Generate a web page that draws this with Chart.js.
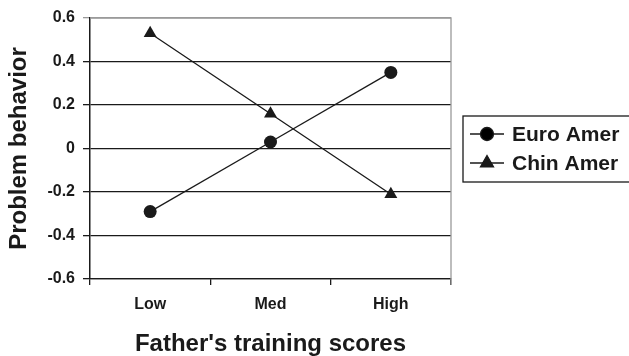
<!DOCTYPE html>
<html>
<head>
<meta charset="utf-8">
<script src="https://cdn.jsdelivr.net/npm/chart.js@4"></script>
<style>
  body { margin: 0; background: #fff; }
  canvas { display: block; }
</style>
</head>
<body>
<canvas id="chart" width="629" height="356"></canvas>
<script>
// Father's training scores vs problem behavior
const categories = ['Low', 'Med', 'High'];
const euroAmer = [-0.29, 0.03, 0.35];
const chinAmer = [0.53, 0.16, -0.21];
const seriesNames = ['Euro Amer', 'Chin Amer'];
const yTicks = [-0.6, -0.4, -0.2, 0, 0.2, 0.4, 0.6];

const FONT = "'Liberation Sans', Arial, sans-serif";
const INK = '#1a1a1a';

// gray frame on top / right of the plot
const frame = {
    id: 'frame',
    afterDraw(chart) {
        const { ctx, chartArea: a } = chart;
        ctx.save();
        ctx.strokeStyle = '#9a9a9a';
        ctx.lineWidth = 1.3;
        ctx.beginPath();
        ctx.moveTo(a.left, a.top);
        ctx.lineTo(a.right, a.top);
        ctx.lineTo(a.right, a.bottom + 6);
        ctx.stroke();
        ctx.restore();
    }
};

// boxed legend to the right, like the original figure
const boxLegend = {
    id: 'boxLegend',
    afterDraw(chart) {
        const ctx = chart.ctx;
        const x = 463, y = 116, h = 66;
        ctx.save();
        ctx.strokeStyle = INK;
        ctx.lineWidth = 1.3;
        ctx.strokeRect(x, y, 200, h);
        chart.data.datasets.forEach((ds, i) => {
            const cy = y + 18 + i * 29;
            ctx.strokeStyle = INK;
            ctx.lineWidth = 1.3;
            ctx.beginPath();
            ctx.moveTo(470, cy);
            ctx.lineTo(504, cy);
            ctx.stroke();
            Chart.helpers.drawPoint(ctx, {
                pointStyle: ds.pointStyle,
                radius: ds.pointRadius,
                borderWidth: 1
            }, 487, cy);
            ctx.fillStyle = INK;
            ctx.font = 'bold 21px ' + FONT;
            ctx.textBaseline = 'middle';
            ctx.fillText(ds.label, 512, cy + 1);
        });
        ctx.restore();
    }
};

new Chart(document.getElementById('chart'), {
    type: 'line',
    data: {
        labels: categories,
        datasets: [{
            label: seriesNames[0],
            data: euroAmer,
            borderColor: INK,
            backgroundColor: INK,
            borderWidth: 1.3,
            pointStyle: 'circle',
            pointRadius: 6.5,
            pointBorderWidth: 0
        }, {
            label: seriesNames[1],
            data: chinAmer,
            borderColor: INK,
            backgroundColor: INK,
            borderWidth: 1.3,
            pointStyle: 'triangle',
            pointRadius: 7.5,
            pointBorderWidth: 0
        }]
    },
    options: {
        responsive: false,
        devicePixelRatio: 1,
        animation: false,
        layout: { padding: { top: 18, right: 178, left: 0, bottom: 0 } },
        plugins: {
            legend: { display: false },
            tooltip: { enabled: false }
        },
        scales: {
            x: {
                offset: true,
                afterFit: s => { s.height = 77; },
                grid: {
                    offset: true,
                    drawOnChartArea: false,
                    tickLength: 6,
                    color: INK,
                    lineWidth: 1.3
                },
                border: { color: INK, width: 1.3 },
                ticks: {
                    color: INK,
                    padding: 10,
                    font: { family: FONT, size: 16, weight: 'bold' }
                },
                title: {
                    display: true,
                    text: "Father's training scores",
                    color: INK,
                    padding: { top: 0, bottom: -3 },
                    font: { family: FONT, size: 24, weight: 'bold' }
                }
            },
            y: {
                min: yTicks[0],
                max: yTicks[yTicks.length - 1],
                afterFit: s => { s.width = 90; },
                afterBuildTicks: s => { s.ticks = yTicks.map(v => ({ value: v })); },
                grid: {
                    color: c => (c.tick && c.tick.value === 0.6 ? '#9a9a9a' : INK),
                    lineWidth: 1.3,
                    tickLength: 7
                },
                border: { color: INK, width: 1.5 },
                ticks: {
                    color: INK,
                    padding: 8,
                    font: { family: FONT, size: 16, weight: 'bold' },
                    callback: v => String(Math.round(v * 10) / 10)
                },
                title: {
                    display: true,
                    text: 'Problem behavior',
                    color: INK,
                    padding: { top: 5, bottom: 0 },
                    font: { family: FONT, size: 24, weight: 'bold' }
                }
            }
        }
    },
    plugins: [frame, boxLegend]
});
</script>
</body>
</html>
